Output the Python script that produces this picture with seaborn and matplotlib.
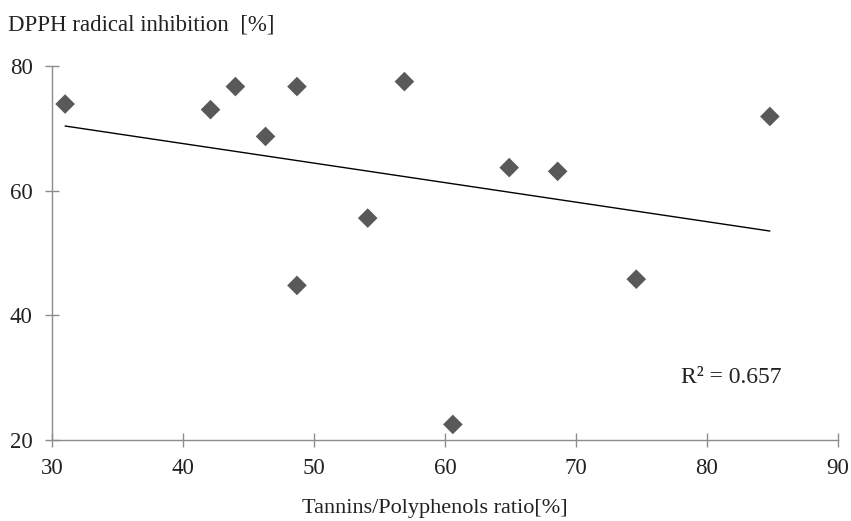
import numpy as np
import pandas as pd
import seaborn as sns
import matplotlib.pyplot as plt

# values
tannin_ratio = [31.0, 42.1, 44.0, 46.3, 48.7, 48.7, 54.1, 56.9, 60.6, 64.9, 68.6, 74.6, 84.8]
dpph_inhib = [73.9, 73.0, 76.7, 68.7, 76.7, 44.8, 55.6, 77.5, 22.5, 63.7, 63.1, 45.8, 71.9]
x_ticks = [30, 40, 50, 60, 70, 80, 90]
y_ticks = [20, 40, 60, 80]
r2_label = "R\u00b2 = 0.657"

df = pd.DataFrame({'ratio': tannin_ratio, 'dpph': dpph_inhib})

sns.set_style('white')
plt.rcParams['font.family'] = ['Liberation Serif', 'DejaVu Serif']

fig = plt.figure(figsize=(8.51, 5.21), dpi=100)
ax = fig.add_axes([52 / 851, 1 - 440 / 521, (838 - 52) / 851, (440 - 66) / 521])

sns.scatterplot(data=df, x='ratio', y='dpph', marker='D', s=100, color='#595959',
                edgecolor='none', ax=ax, zorder=3)
# linear trend line
sns.regplot(data=df, x='ratio', y='dpph', scatter=False, ci=None, ax=ax,
            line_kws={'color': 'black', 'lw': 1.0})

ax.set_xlim(30, 90)
ax.set_ylim(20, 80)
ax.set_xticks(x_ticks)
ax.set_yticks(y_ticks)

for side in ['top', 'right']:
    ax.spines[side].set_visible(False)
for side in ['left', 'bottom']:
    ax.spines[side].set_color('#8c8c8c')
    ax.spines[side].set_linewidth(1.0)

ax.tick_params(axis='both', bottom=True, left=True, direction='inout', length=10,
               width=1.0, color='#8c8c8c', labelsize=16.5, labelcolor='#222222')
ax.tick_params(axis='x', pad=8)
ax.tick_params(axis='y', pad=9)

ax.set_xlabel('')
ax.set_ylabel('')
fig.text(435 / 851, 1 - 508 / 521, 'Tannins/Polyphenols ratio[%]', ha='center', va='center',
         fontsize=16, color='#222222')
fig.text(8 / 851, 1 - 25 / 521, 'DPPH radical inhibition  [%]', ha='left', va='center',
         fontsize=16.5, color='#222222')

ax.text(78, 30, r2_label, ha='left', va='center', fontsize=17, color='#222222')

fig.savefig('out.png', dpi=100)
